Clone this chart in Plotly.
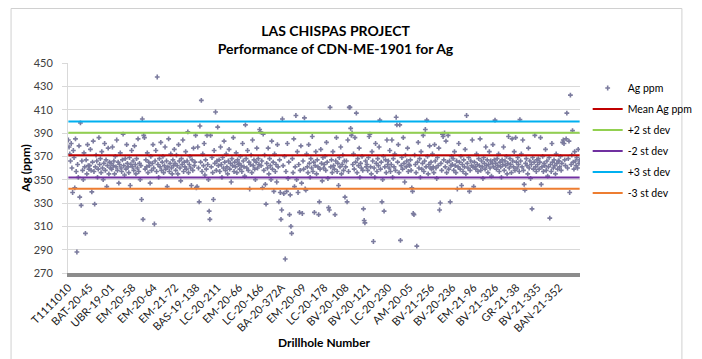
import plotly.graph_objects as go

# ---------------- data ----------------
tick_labels = ["T1111010", "BAT-20-45", "UBR-19-01", "EM-20-58", "EM-20-64", "EM-21-72",
               "BAS-19-138", "LC-20-211", "EM-20-66", "LC-20-166", "BA-20-372A", "EM-20-09",
               "LC-20-178", "BV-20-108", "BV-20-121", "LC-20-230", "AM-20-05", "BV-21-256",
               "BV-20-236", "EM-21-96", "BV-21-326", "GR-21-38", "BV-21-335", "BAN-21-352"]

seg00 = [384, 378, 372, 366, 381, 360, 339, 375, 369, 343, 385, 357, 288, 363, 352, 379, 335, 398.6, 328, 366, 358, 350, 373, 361, 304, 367, 355, 380, 362, 359]
seg01 = [362, 376, 358, 339.5, 365, 383, 357, 329, 361, 371, 366, 352, 359, 386, 363, 368, 356, 374, 360, 350, 364, 381, 358, 367, 344, 362, 377, 355, 365, 360]
seg02 = [364, 359, 378, 362, 366, 355, 370, 361, 384, 358, 365, 347, 363, 373, 360, 357, 367, 389, 362, 354, 368, 359, 380, 364, 361, 356, 369, 345, 363, 375]
seg03 = [361, 366, 358, 379, 363, 355, 368, 360, 385, 357, 364, 350, 362, 333, 402, 316, 388, 386, 359, 367, 361, 373, 356, 365, 362, 347, 370, 358, 364, 380]
seg04 = [360, 312, 366, 375, 357, 438, 363, 352, 368, 361, 382, 358, 365, 370, 356, 362, 378, 359, 366, 344, 361, 385, 357, 364, 372, 360, 355, 367, 362, 376]
seg05 = [364, 358, 371, 362, 355, 380, 366, 360, 349, 368, 363, 384, 357, 365, 361, 374, 359, 366, 391, 356, 363, 370, 360, 345, 367, 358, 377, 362, 365, 388]
seg06 = [343, 344, 378, 360, 331, 396, 365, 418, 357, 372, 362, 381, 354, 367, 359, 388, 363, 350, 323, 316, 388, 361, 369, 356, 333, 375, 364, 408, 358, 366]
seg07 = [395, 362, 367, 357, 378, 363, 352, 369, 360, 383, 365, 358, 372, 361, 355, 366, 376, 359, 364, 348, 368, 362, 386, 357, 365, 361, 373, 356, 367, 363]
seg08 = [364, 359, 370, 362, 357, 381, 366, 361, 353, 397, 368, 360, 375, 358, 365, 342, 363, 371, 356, 384, 362, 367, 359, 350, 365, 377, 360, 368, 363, 393]
seg09 = [391, 362, 366, 343, 389, 358, 371, 346, 329, 364, 360, 377, 355, 368, 362, 350, 383, 359, 365, 340, 372, 357, 363, 348, 380, 361, 331, 367, 339, 316]
seg10 = [324, 402, 362, 338, 370, 282, 357, 340, 381, 351, 365, 320, 337, 310, 304, 368, 356, 385, 344, 361, 405, 350, 374, 339, 363, 322, 358, 379, 347, 321]
seg11 = [366, 359, 403, 342, 341, 372, 361, 356, 380, 364, 352, 368, 360, 387, 357, 365, 322, 362, 374, 355, 367, 361, 320, 331, 359, 376, 364, 349, 369, 360]
seg12 = [363, 370, 358, 382, 365, 351, 326, 324, 412, 361, 367, 356, 374, 362, 359, 320, 366, 386, 357, 364, 345, 369, 361, 378, 355, 363, 371, 358, 366, 335]
seg13 = [361, 366, 331, 384, 357, 412, 412, 394, 388, 390, 363, 372, 359, 386, 365, 407, 356, 368, 362, 377, 352, 364, 360, 370, 358, 325, 315, 313, 366, 361]
seg14 = [363, 358, 369, 387, 389, 361, 355, 374, 366, 297, 360, 352, 381, 364, 357, 368, 362, 378, 401, 359, 365, 331, 350, 370, 323, 361, 367, 356, 384, 363]
seg15 = [366, 360, 375, 357, 363, 384, 352, 368, 361, 372, 358, 403.5, 397, 365, 380, 356, 397, 298, 362, 369, 359, 386, 364, 348, 371, 361, 366, 377, 357, 363]
seg16 = [362, 367, 358, 343, 340, 321, 320, 371, 363, 356, 293, 365, 382, 360, 368, 352, 374, 359, 364, 388, 357, 366, 393, 361, 401, 370, 355, 363, 379, 360]
seg17 = [365, 359, 372, 361, 356, 380, 366, 360, 351, 369, 362, 377, 324, 330, 364, 358, 389, 387, 367, 390, 361, 383, 356, 365, 388, 359, 366, 331, 362, 370]
seg18 = [363, 368, 358, 374, 362, 356, 366, 342, 361, 381, 365, 359, 370, 345, 363, 357, 367, 361, 376, 355, 405, 364, 360, 369, 340, 358, 366, 362, 384, 361]
seg19 = [344, 365, 361, 359, 372, 363, 357, 368, 362, 385, 358, 366, 361, 351, 369, 364, 359, 378, 362, 367, 356, 363, 374, 360, 366, 353, 364, 380, 361, 367]
seg20 = [401, 364, 359, 368, 362, 372, 357, 365, 361, 352, 367, 363, 378, 358, 366, 362, 370, 355, 364, 387, 360, 368, 363, 356, 385, 366, 361, 374, 358, 386]
seg21 = [365, 360, 369, 363, 357, 401.5, 366, 372, 361, 384, 358, 346, 341, 364, 368, 362, 355, 377, 360, 366, 351, 363, 325, 369, 359, 365, 388, 361, 357, 367]
seg22 = [363, 368, 359, 365, 386, 346, 361, 370, 357, 364, 362, 376, 358, 366, 353, 361, 369, 317, 363, 357, 381, 365, 360, 367, 362, 355, 372, 364, 359, 366]
seg23 = [366, 361, 370, 358, 364, 382, 384, 381, 367, 362, 385, 407, 360, 368, 383, 339, 422.5, 363, 371, 392, 365, 359, 374, 366, 362, 369, 360, 376, 364, 367]

segments = [seg00, seg01, seg02, seg03, seg04, seg05, seg06, seg07, seg08, seg09, seg10, seg11,
            seg12, seg13, seg14, seg15, seg16, seg17, seg18, seg19, seg20, seg21, seg22, seg23]

ag_ppm = [v for s in segments for v in s]

stat_names = ["Mean Ag ppm", "+2 st dev", "-2 st dev", "+3 st dev", "-3 st dev"]
stat_values = [371.0, 390.2, 351.8, 399.8, 342.2]
stat_colors = ["#C00000", "#92D050", "#7030A0", "#00B0F0", "#ED7D31"]

# ---------------- figure ----------------
n = len(ag_ppm)
xs = list(range(n))
tickvals = []
pos = 0
for s in segments:
    tickvals.append(pos)
    pos += len(s)

W, H = 702, 359
L, R, T, B = 60, 107, 55, 94
font_family = "Lato, 'Open Sans', sans-serif"

fig = go.Figure()
fig.add_trace(go.Scatter(
    x=xs, y=ag_ppm, mode="markers", name="Ag ppm", legendgroup="g0",
    marker=dict(symbol="cross", size=4, color="#7b7b9e", line=dict(width=0)),
))
for i, (nm, val, col) in enumerate(zip(stat_names, stat_values, stat_colors)):
    fig.add_trace(go.Scatter(
        x=xs, y=[val] * n, mode="lines", name=nm, legendgroup=f"g{i + 1}",
        line=dict(color=col, width=2),
    ))

pw = W - L - R
ph = H - T - B
fig.add_shape(type="rect", xref="paper", yref="paper",
              x0=-(L - 0.5) / pw, x1=1 + (R - 0.5) / pw,
              y0=-(B - 0.5) / ph, y1=1 + (T - 0.5) / ph,
              line=dict(color="#d0d0d0", width=1), layer="below")

fig.update_layout(
    width=W, height=H,
    margin=dict(l=L, r=R, t=T, b=B, pad=0),
    paper_bgcolor="white", plot_bgcolor="white",
    font=dict(family=font_family, size=11, color="#404040"),
    title=dict(text="<b>LAS CHISPAS PROJECT<br>Performance of CDN-ME-1901 for Ag</b>",
               x=(L + pw / 2) / W, xanchor="center", y=1 - 28 / H, yanchor="middle",
               font=dict(size=14, color="#000000", family=font_family)),
    showlegend=True,
    legend=dict(x=1.015, xanchor="left", y=0.95, yanchor="top",
                font=dict(size=10.5, color="#000000"), itemwidth=30,
                bgcolor="rgba(0,0,0,0)", tracegroupgap=2),
    xaxis=dict(
        range=[-0.5, n - 0.5], tickmode="array", tickvals=tickvals, ticktext=tick_labels,
        tickangle=-45, showgrid=False, zeroline=False,
        showline=True, linecolor="#8c8c8c", linewidth=4, ticks="",
        tickfont=dict(size=11, color="#202020"),
        title=dict(text="<b>Drillhole Number</b>", font=dict(size=12, color="#000000"), standoff=6),
    ),
    yaxis=dict(
        range=[270, 450], dtick=20, tick0=270, showgrid=True, gridcolor="#d9d9d9", gridwidth=1,
        zeroline=False, showline=True, linecolor="#d9d9d9", linewidth=1,
        ticks="outside", ticklen=5, tickcolor="#d9d9d9", ticklabelstandoff=7,
        tickfont=dict(size=11, color="#404040"),
        title=dict(text="<b>Ag (ppm)</b>", font=dict(size=12, color="#000000"), standoff=0),
    ),
)

fig.write_html("out.html")
